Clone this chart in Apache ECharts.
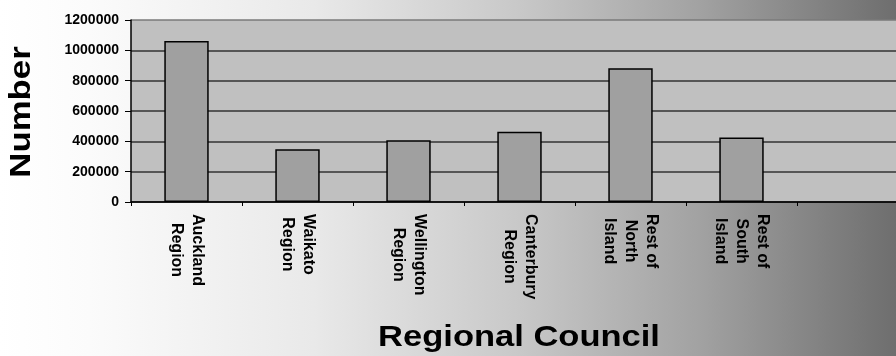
<!DOCTYPE html>
<html>
<head>
<meta charset="utf-8">
<script src="https://cdn.jsdelivr.net/npm/echarts@6/dist/echarts.min.js"></script>
<style>
  html, body { margin: 0; padding: 0; }
  #chart {
    width: 896px; height: 356px;
    background: linear-gradient(to right, #ffffff 0%, #fbfbfb 10%, #e9e9e9 35%, #c8c8c8 58%, #a2a2a2 78%, #6e6e6e 100%);
  }
</style>
</head>
<body>
<div id="chart"></div>
<script>
// Regions (the last slot is left empty on the axis)
const categories = [
  'Auckland\nRegion',
  'Waikato\nRegion',
  'Wellington\nRegion',
  'Canterbury\nRegion',
  'Rest of\nNorth\nIsland',
  'Rest of\nSouth\nIsland',
  ''
];
const counts = [1062000, 347000, 407000, 464000, 882000, 426000, null];
const yTicks = { min: 0, max: 1200000, step: 200000 };
const yTitle = 'Number';
const xTitle = 'Regional Council';

const FONT = '"Liberation Sans", Arial, sans-serif';
const chart = echarts.init(document.getElementById('chart'), null, { renderer: 'canvas' });

chart.setOption({
  backgroundColor: 'transparent',
  animation: false,
  grid: {
    left: 131, top: 20, width: 777, height: 182,
    outerBoundsMode: 'none',
    containLabel: false,
    show: true, backgroundColor: '#c0c0c0', borderWidth: 0
  },
  xAxis: {
    type: 'category',
    data: categories,
    axisLine: { lineStyle: { color: '#000', width: 1.5 } },
    axisTick: { show: true, length: 4, lineStyle: { color: '#000', width: 1 } },
    axisLabel: {
      rotate: -90,
      margin: 12,
      interval: 0,
      color: '#000',
      fontFamily: FONT,
      fontWeight: 'bold',
      fontSize: 16,
      lineHeight: 21,
      formatter: v => v.split('\n').map(s => '{c|' + s + '}').join('\n'),
      rich: {
        c: { align: 'center', fontFamily: FONT, fontWeight: 'bold', fontSize: 16, lineHeight: 21, color: '#000' }
      }
    }
  },
  yAxis: {
    type: 'value',
    min: yTicks.min, max: yTicks.max, interval: yTicks.step,
    axisLine: { show: true, lineStyle: { color: '#000', width: 1.5 } },
    axisTick: { show: true, length: 6, lineStyle: { color: '#000' } },
    axisLabel: {
      margin: 12,
      color: '#000',
      fontFamily: FONT,
      fontWeight: 'bold',
      fontSize: 14,
      formatter: v => String(v)
    },
    splitLine: {
      show: true,
      lineStyle: { color: ['#333', '#333', '#333', '#333', '#333', '#333', '#7a7a7a'], width: 1.5 }
    }
  },
  series: [{
    type: 'bar',
    data: counts,
    barWidth: '40%',
    itemStyle: { color: '#a0a0a0', borderColor: '#000', borderWidth: 1.5 }
  }],
  graphic: [
    {
      type: 'text',
      x: 22, y: 112,
      rotation: Math.PI / 2,
      scaleX: 1.2,
      style: {
        text: yTitle, fill: '#000',
        font: 'bold 29px ' + FONT,
        textAlign: 'center', textVerticalAlign: 'middle'
      }
    },
    {
      type: 'text',
      x: 519, y: 338,
      scaleX: 1.15,
      style: {
        text: xTitle, fill: '#000',
        font: 'bold 30px ' + FONT,
        textAlign: 'center', textVerticalAlign: 'middle'
      }
    }
  ]
});
</script>
</body>
</html>
